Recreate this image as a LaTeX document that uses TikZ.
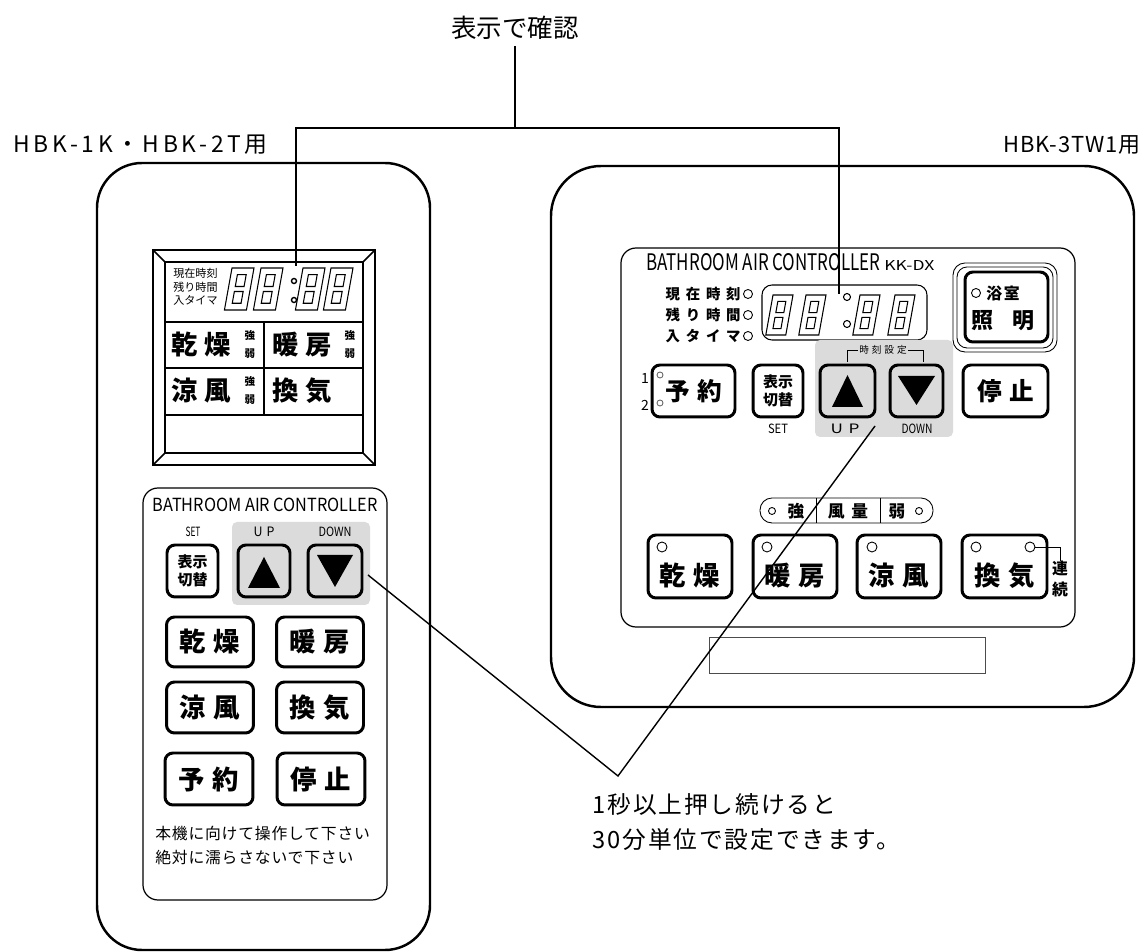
\documentclass[tikz,border=0pt]{standalone}
\usepackage{fontspec}
\setmainfont{Noto Sans CJK JP}
\usepackage{graphicx}
\usetikzlibrary{positioning}
\newcommand{\fsz}[2]{\fontsize{#1}{#2}\selectfont}
\newcommand{\ls}[1]{\addfontfeature{LetterSpace=#1}}
\newcommand{\keylbl}[2]{\resizebox{#1}{0.19cm}{#2}}
\newcommand{\segdigit}[4]{%
  \begin{scope}[shift={(#1,#2)}, xslant=0.18]
    \draw[segline] (0,0) rectangle (#3,#4);
    \draw[segline] ({0.3*#3},{0.16*#4}) rectangle ({0.7*#3},{0.44*#4});
    \draw[segline] ({0.3*#3},{0.56*#4}) rectangle ({0.7*#3},{0.84*#4});
  \end{scope}}

\begin{document}
\begin{tikzpicture}[x=0.02cm, y=-0.02cm,
    body/.style={line width=1.4pt, rounded corners=9mm},
    panel/.style={line width=0.7pt, rounded corners=3mm},
    btn/.style={draw, line width=1.7pt, rounded corners=1.6mm, inner sep=0pt, align=center},
    lamp/.style={draw, line width=0.5pt, circle, inner sep=0pt, minimum size=0.18cm},
    segline/.style={line width=0.6pt},
    lead/.style={line width=0.8pt},
    keypad/.style={fill=black!14, rounded corners=1mm},
    small/.style={align=center, inner sep=0pt},
    bigtxt/.style={font=\fsz{15}{15}\bfseries\ls{30}},
    gridtxt/.style={inner sep=1pt, font=\fsz{15}{15}\bfseries},
    level/.style={inner sep=0pt, font=\fsz{6}{6}\bfseries}
  ]
  \useasboundingbox (0,0) rectangle (1144,952);

  % headings
  \node (title) at (515,28) {\fsz{14.5}{17}表示で確認};
  \node [anchor=east, inner sep=0] (lname) at (268,145) {\fsz{13}{15}\ls{16}HBK-1K・HBK-2T用};
  \node [anchor=east, inner sep=0] (rname) at (1141,145) {\fsz{12.5}{15}\ls{4}HBK-3TW1用};

  % left remote
  \draw [body] (97,163) rectangle (430,950);
  \draw [line width=1.3pt] (153,250) rectangle (375,465);
  \draw [line width=0.9pt] (165,262) rectangle (363,453);
  \draw [line width=0.9pt] (153,250) -- (165,262) (375,250) -- (363,262)
        (153,465) -- (165,453) (375,465) -- (363,453);
  \draw [line width=1.1pt] (165,322) -- (363,322) (165,368) -- (363,368)
        (165,415) -- (363,415) (264,322) -- (264,415);
  \node [anchor=west, align=left, inner sep=0, font=\fsz{6.3}{7.7}] (lmode) at (173,287) {現在時刻\\残り時間\\入タイマ};
  \foreach \dx in {232,261,303,331} {\segdigit{\dx}{268}{22}{42}}
  \draw [line width=0.8pt] (294,281) circle (0.5mm) (294,300) circle (0.5mm);
  \node [gridtxt] (ldry) at (201,345) {乾\hspace{4pt}燥};
  \node [gridtxt] (lwarm) at (302,345) {暖\hspace{4pt}房};
  \node [gridtxt] (lcool) at (201,391) {涼\hspace{4pt}風};
  \node [gridtxt] (lvent) at (302,391) {換\hspace{4pt}気};
  \foreach \lx/\ly [count=\i] in {250/345, 350/345, 250/391}
    {\node [level] (lhi\i) at (\lx,\ly-9) {強};
     \node [level] (llo\i) at (\lx,\ly+9) {弱};}

  \draw [panel] (143,488) rectangle (387,900);
  \node (ltitle) at (265,505) {\resizebox{4.5cm}{0.27cm}{BATHROOM AIR CONTROLLER}};
  \fill [keypad] (232,522) rectangle (370,605);
  \node (lsetlbl) at (193,532) {\keylbl{0.3cm}{SET}};
  \node (luplbl) at (264,532) {\keylbl{0.42cm}{U\,\,P}};
  \node (ldownlbl) at (335,532) {\keylbl{0.66cm}{DOWN}};
  \node [btn, minimum width=1.02cm, minimum height=1.04cm, font=\fsz{8.5}{10.5}\bfseries] (lset) at (192.5,571) {表示\\切替};
  \node [btn, minimum width=1.04cm, minimum height=1.04cm] (lup) at (264,571) {};
  \fill (264,557) -- (248,588) -- (280,588) -- cycle;
  \node [btn, minimum width=1.08cm, minimum height=1.04cm] (ldown) at (335,571) {};
  \fill (317,555) -- (353,555) -- (335,587) -- cycle;
  \node [btn, bigtxt, minimum width=1.74cm, minimum height=1.0cm] (lbdry) at (210,642) {乾燥};
  \node [btn, bigtxt, minimum width=1.74cm, minimum height=1.0cm] (lbwarm) at (320,642) {暖房};
  \node [btn, bigtxt, minimum width=1.74cm, minimum height=1.02cm] (lbcool) at (210,707.5) {涼風};
  \node [btn, bigtxt, minimum width=1.74cm, minimum height=1.02cm] (lbvent) at (320,707.5) {換気};
  \node [btn, bigtxt, minimum width=1.76cm, minimum height=1.04cm] (lbtimer) at (209,779) {予約};
  \node [btn, bigtxt, minimum width=1.76cm, minimum height=1.04cm] (lbstop) at (321,779) {停止};
  \node [anchor=west, inner sep=0] (lnote1) at (155,833) {\fsz{9}{9}\ls{5}本機に向けて操作して下さい};
  \node [anchor=west, inner sep=0] (lnote2) at (155,857) {\fsz{9}{9}\ls{5}絶対に濡らさないで下さい};

  % right panel
  \draw [body, rounded corners=1cm] (551,166) rectangle (1134,707);
  \draw [panel] (621,248) rectangle (1075,627);
  \node [anchor=south west, inner sep=0] (rtitle) at (646,271) {\resizebox{4.68cm}{0.34cm}{BATHROOM AIR CONTROLLER}};
  \node [anchor=south west, inner sep=0] (rmodel) at (884,271) {\resizebox{1.0cm}{0.2cm}{KK-DX}};
  \node [anchor=east, align=right, inner sep=0, font=\fsz{8.2}{11.9}\bfseries\ls{40}] (rmode) at (741,315) {現在時刻\\残り時間\\入タイマ};
  \foreach \yy [count=\i] in {294,315,336} {\node [lamp] (rlamp\i) at (748,\yy) {};}
  \draw [line width=0.6pt, rounded corners=2mm] (762,285) rectangle (927,340);
  \foreach \dx in {773,806,860,895} {\segdigit{\dx}{295}{20}{40}}
  \draw [line width=0.6pt] (847,297) circle (0.7mm) (847,324) circle (0.7mm);

  \draw [line width=0.5pt, rounded corners=2.4mm] (953,263) rectangle (1057,352);
  \draw [line width=0.5pt, rounded corners=2mm] (957,267) rectangle (1053,348);
  \node [btn, minimum width=1.66cm, minimum height=1.4cm] (rlight) at (1006.5,307) {};
  \node [lamp] (rlightlamp) at (976,293) {};
  \node (rbath) at (1003,293) {\fsz{9}{9}\bfseries\ls{10}浴室};
  \node (rlighttxt) at (1003,321) {\fsz{12.5}{12.5}\bfseries 照\hspace{0.4cm}明};

  \fill [keypad] (815,340) rectangle (953,437);
  \draw [line width=0.5pt] (847,362) |- (923,350) -- (923,362);
  \node [fill=black!14, inner sep=1pt] (rclock) at (883,350) {\fsz{5.5}{6}\ls{30}時刻設定};
  \node [btn, minimum width=1.66cm, minimum height=1.04cm, font=\fsz{14}{14}\bfseries\ls{30}] (rbtimer) at (693.5,391) {予約};
  \node [lamp, minimum size=0.12cm, draw=black!60] (rtlamp1) at (660,375) {};
  \node [lamp, minimum size=0.12cm, draw=black!60] (rtlamp2) at (660,403) {};
  \node (rone) at (645,378) {\fsz{8}{8}1};
  \node (rtwo) at (645,405) {\fsz{8}{8}2};
  \node [btn, minimum width=1.0cm, minimum height=1.04cm, font=\fsz{8.5}{10.5}\bfseries] (rset) at (778,391) {表示\\切替};
  \node (rsetlbl) at (778,429) {\keylbl{0.4cm}{SET}};
  \node [btn, minimum width=1.1cm, minimum height=1.04cm] (rup) at (847.5,391) {};
  \fill (847.5,375) -- (832,407) -- (863,407) -- cycle;
  \node (ruplbl) at (845,429) {\keylbl{0.58cm}{U\,\,P}};
  \node [btn, minimum width=1.06cm, minimum height=1.04cm] (rdown) at (916.5,391) {};
  \fill (898,376) -- (935,376) -- (916.5,405) -- cycle;
  \node (rdownlbl) at (917,429) {\keylbl{0.62cm}{DOWN}};
  \node [btn, minimum width=1.7cm, minimum height=1.04cm, font=\fsz{14}{14}\bfseries\ls{30}] (rbstop) at (1005.5,391) {停止};

  \draw [line width=0.5pt, rounded corners=2.4mm] (760,498) rectangle (933,523);
  \draw [line width=0.5pt] (816,498) -- (816,523) (880,498) -- (880,523);
  \node [lamp, minimum size=0.14cm] (rstrong) at (772,511) {};
  \node [lamp, minimum size=0.14cm] (rweak) at (919,511) {};
  \node (rstrongtxt) at (796,511) {\fsz{9.5}{9.5}\bfseries 強};
  \node (rvoltxt) at (848,511) {\fsz{9.5}{9.5}\bfseries\ls{40}風量};
  \node (rweaktxt) at (897,511) {\fsz{9.5}{9.5}\bfseries 弱};

  \node [btn, minimum width=1.68cm, minimum height=1.26cm] (rbdry) at (690,566.5) {};
  \node [btn, minimum width=1.68cm, minimum height=1.26cm] (rbwarm) at (795,566.5) {};
  \node [btn, minimum width=1.68cm, minimum height=1.26cm] (rbcool) at (899,566.5) {};
  \node [btn, minimum width=1.70cm, minimum height=1.26cm] (rbvent) at (1004.5,566.5) {};
  \foreach \b/\t in {rbdry/乾燥, rbwarm/暖房, rbcool/涼風, rbvent/換気}
    {\node [bigtxt] (\b txt) at ([yshift=-0.19cm]\b.center) {\t};}
  \node [lamp, minimum size=0.2cm] (rdrylamp) at (662,547) {};
  \node [lamp, minimum size=0.2cm] (rwarmlamp) at (767,547) {};
  \node [lamp, minimum size=0.2cm] (rcoollamp) at (872,547) {};
  \node [lamp, minimum size=0.2cm] (rventlamp) at (976,547) {};
  \node [lamp, minimum size=0.2cm] (rcontlamp) at (1030,547) {};
  \node [small, font=\fsz{9}{11.4}\bfseries] (rcont) at (1060,579) {連\\続};
  \draw [line width=0.5pt] (rcontlamp.east) -| (rcont.north);
  \draw [line width=0.5pt, draw=black!70] (709,637) rectangle (985,673);

  % leaders
  \coordinate (junc) at (515,128);
  \coordinate (ldisp) at (296,266);
  \coordinate (rdisp) at (839,294);
  \draw [lead] (title.south) -- (junc);
  \draw [lead] (ldisp) |- (junc) -| (rdisp);
  \coordinate (ptip) at (618,776);
  \coordinate (lptr) at (368,575);
  \coordinate (rptr) at (875,426);
  \draw [lead] (lptr) -- (ptip) -- (rptr);
  \node [anchor=west, inner sep=0] (note1) at (592,805) {\fsz{13.5}{13.5}\ls{8}1秒以上押し続けると};
  \node [anchor=west, inner sep=0] (note2) at (592,840) {\fsz{13.5}{13.5}\ls{8}30分単位で設定できます。};
\end{tikzpicture}
\end{document}
